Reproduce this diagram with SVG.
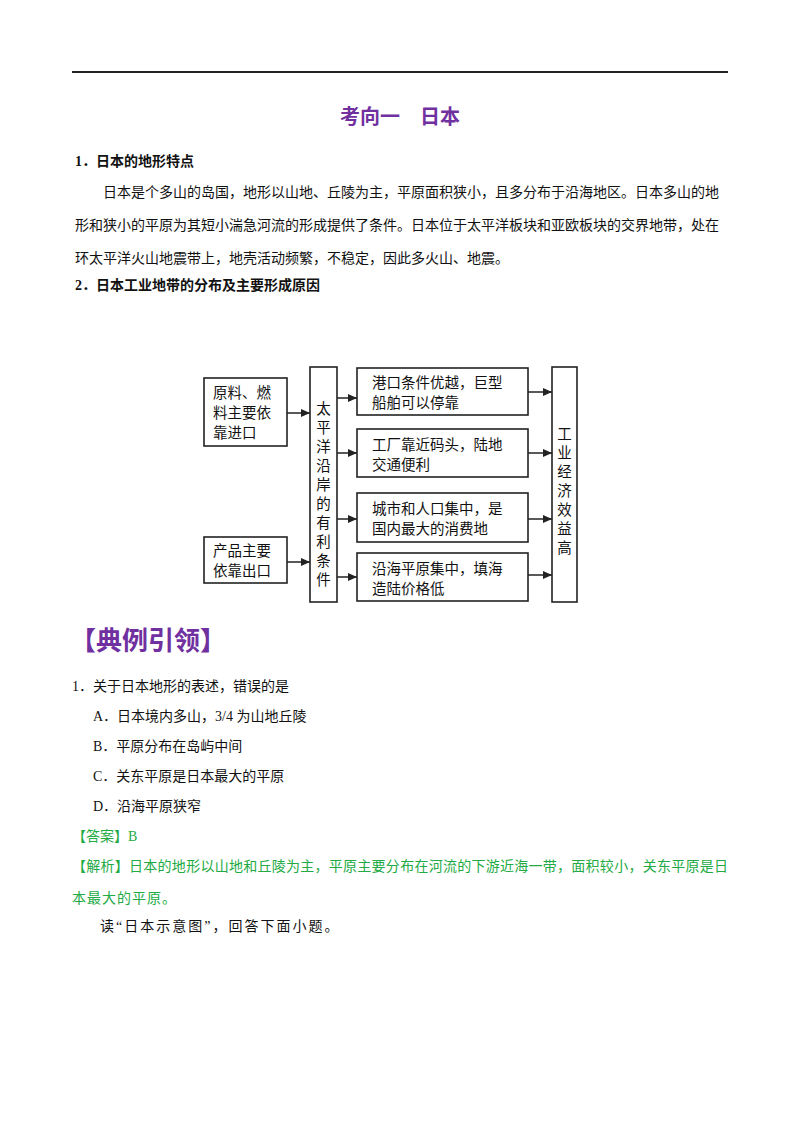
<svg xmlns="http://www.w3.org/2000/svg" width="800" height="1132" viewBox="0 0 800 1132">
<style>
text{font-family:"Liberation Serif","Noto Sans CJK SC",serif;fill:#111}
.p{font-size:14px}
.b{font-weight:bold;font-size:14px}
.d{font-size:14.5px}
.box{fill:#fff;stroke:#222;stroke-width:1.6}
.g{fill:#22aa44;font-size:14px}
line{stroke:#222;stroke-width:1.5}
</style>
<defs><marker id="ah" markerWidth="9" markerHeight="8" refX="9" refY="4" orient="auto" markerUnits="userSpaceOnUse"><path d="M0,0L9,4L0,8z" fill="#222"/></marker></defs>
<rect width="800" height="1132" fill="#fff"/>
<line x1="72" y1="72" x2="728" y2="72" style="stroke-width:2"/>
<text x="400" y="124" text-anchor="middle" style="font-size:20px;font-weight:bold;fill:#7030a0">考向一　日本</text>
<text x="75" y="166" class="b">1．日本的地形特点</text>
<text x="103" y="197" class="p">日本是个多山的岛国，地形以山地、丘陵为主，平原面积狭小，且多分布于沿海地区。日本多山的地</text>
<text x="75" y="230" class="p">形和狭小的平原为其短小湍急河流的形成提供了条件。日本位于太平洋板块和亚欧板块的交界地带，处在</text>
<text x="75" y="263" class="p">环太平洋火山地震带上，地壳活动频繁，不稳定，因此多火山、地震。</text>
<text x="75" y="290" class="b">2．日本工业地带的分布及主要形成原因</text>
<g id="nA"><rect class="box" x="204" y="378" width="83" height="68"/><text class="d" x="213" y="398">原料、燃</text><text class="d" x="213" y="418">料主要依</text><text class="d" x="213" y="438">靠进口</text></g>
<g id="nB"><rect class="box" x="204" y="537" width="83" height="46"/><text class="d" x="213" y="556">产品主要</text><text class="d" x="213" y="576">依靠出口</text></g>
<g id="nT"><rect class="box" x="310" y="367" width="27" height="235"/><text class="d" x="323.5" y="414" text-anchor="middle"><tspan x="323.5">太</tspan><tspan x="323.5" dy="19">平</tspan><tspan x="323.5" dy="19">洋</tspan><tspan x="323.5" dy="19">沿</tspan><tspan x="323.5" dy="19">岸</tspan><tspan x="323.5" dy="19">的</tspan><tspan x="323.5" dy="19">有</tspan><tspan x="323.5" dy="19">利</tspan><tspan x="323.5" dy="19">条</tspan><tspan x="323.5" dy="19">件</tspan></text></g>
<g id="n1"><rect class="box" x="357" y="368" width="171" height="47"/><text class="d" x="372" y="388">港口条件优越，巨型</text><text class="d" x="372" y="408">船舶可以停靠</text></g>
<g id="n2"><rect class="box" x="357" y="429" width="171" height="48"/><text class="d" x="372" y="450">工厂靠近码头，陆地</text><text class="d" x="372" y="470">交通便利</text></g>
<g id="n3"><rect class="box" x="357" y="493" width="171" height="49"/><text class="d" x="372" y="514">城市和人口集中，是</text><text class="d" x="372" y="534">国内最大的消费地</text></g>
<g id="n4"><rect class="box" x="357" y="553" width="171" height="48"/><text class="d" x="372" y="574">沿海平原集中，填海</text><text class="d" x="372" y="594">造陆价格低</text></g>
<g id="nR"><rect class="box" x="552" y="367" width="25" height="235"/><text class="d" x="564.5" y="439" text-anchor="middle"><tspan x="564.5">工</tspan><tspan x="564.5" dy="19">业</tspan><tspan x="564.5" dy="19">经</tspan><tspan x="564.5" dy="19">济</tspan><tspan x="564.5" dy="19">效</tspan><tspan x="564.5" dy="19">益</tspan><tspan x="564.5" dy="19">高</tspan></text></g>
<g id="connectors">
<line x1="287" y1="413" x2="310" y2="413" marker-end="url(#ah)"/>
<line x1="287" y1="562" x2="310" y2="562" marker-end="url(#ah)"/>
<line x1="337" y1="398" x2="357" y2="398" marker-end="url(#ah)"/>
<line x1="337" y1="453" x2="357" y2="453" marker-end="url(#ah)"/>
<line x1="337" y1="519" x2="357" y2="519" marker-end="url(#ah)"/>
<line x1="337" y1="577" x2="357" y2="577" marker-end="url(#ah)"/>
<line x1="528" y1="392" x2="552" y2="392" marker-end="url(#ah)"/>
<line x1="528" y1="453" x2="552" y2="453" marker-end="url(#ah)"/>
<line x1="528" y1="519" x2="552" y2="519" marker-end="url(#ah)"/>
<line x1="528" y1="575" x2="552" y2="575" marker-end="url(#ah)"/>
</g>
<text x="70" y="650" style="font-size:26px;font-weight:bold;fill:#7030a0">【典例引领】</text>
<text x="72" y="691" class="p">1．关于日本地形的表述，错误的是</text>
<text x="93" y="721" class="p">A．日本境内多山，3/4 为山地丘陵</text>
<text x="93" y="751" class="p">B．平原分布在岛屿中间</text>
<text x="93" y="781" class="p">C．关东平原是日本最大的平原</text>
<text x="93" y="811" class="p">D．沿海平原狭窄</text>
<text x="72" y="841" class="g">【答案】B</text>
<text x="72" y="871" class="g" textLength="656" lengthAdjust="spacing">【解析】日本的地形以山地和丘陵为主，平原主要分布在河流的下游近海一带，面积较小，关东平原是日</text>
<text x="72" y="903" class="g" style="letter-spacing:1px">本最大的平原。</text>
<text x="100" y="931" class="p" style="letter-spacing:2px">读“日本示意图”，回答下面小题。</text>
</svg>
